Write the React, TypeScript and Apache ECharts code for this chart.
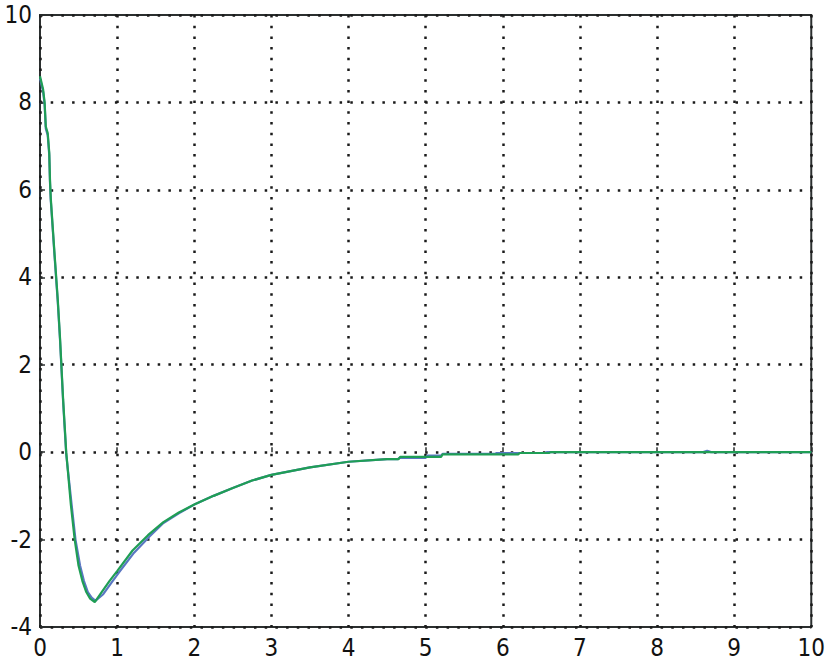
import React, { useEffect, useRef } from "react";
import * as echarts from "echarts";

const xTicks = [0, 1, 2, 3, 4, 5, 6, 7, 8, 9, 10];
const yTicks = [-4, -2, 0, 2, 4, 6, 8, 10];

const greenSeries: [number, number][] = [
  [0, 8.6], [0.04, 8.3], [0.06, 8.0], [0.075, 7.45], [0.1, 7.3], [0.12, 6.85],
  [0.13, 6.2], [0.14, 5.8], [0.19, 4.5], [0.23, 3.5], [0.26, 2.6], [0.3, 1.2], [0.32, 0.6],
  [0.34, 0], [0.4, -1.2], [0.45, -2.0], [0.5, -2.6], [0.55, -2.95], [0.6, -3.2],
  [0.65, -3.35], [0.71, -3.43], [0.8, -3.2], [0.9, -2.95], [1.0, -2.72],
  [1.2, -2.25], [1.4, -1.9], [1.6, -1.6], [1.8, -1.38], [2.0, -1.2], [2.25, -1.0],
  [2.5, -0.82], [2.75, -0.65], [3.0, -0.52], [3.5, -0.35], [4.0, -0.22],
  [4.5, -0.16], [4.65, -0.16], [4.67, -0.11], [5.2, -0.11], [5.22, -0.05],
  [6.2, -0.05], [6.22, -0.02], [6.6, -0.02], [6.62, 0], [10, 0],
];

const blueSeries: [number, number][] = [
  [0, 8.55], [0.04, 8.25], [0.06, 7.95], [0.075, 7.4], [0.1, 7.25], [0.12, 6.8],
  [0.13, 6.15], [0.14, 5.75], [0.19, 4.45], [0.23, 3.45], [0.26, 2.55], [0.3, 1.15], [0.32, 0.55],
  [0.34, -0.05], [0.41, -1.2], [0.46, -2.0], [0.52, -2.6], [0.57, -2.95], [0.62, -3.2],
  [0.67, -3.33], [0.72, -3.4], [0.82, -3.25], [0.92, -3.0], [1.02, -2.76],
  [1.22, -2.3], [1.42, -1.93], [1.6, -1.62], [1.8, -1.4], [2.0, -1.2], [2.25, -1.0],
  [2.5, -0.82], [2.75, -0.65], [3.0, -0.52], [3.5, -0.35], [4.0, -0.22],
  [4.5, -0.16], [4.64, -0.16], [4.66, -0.13], [5.0, -0.13], [5.02, -0.08],
  [5.2, -0.08], [5.22, -0.04], [5.9, -0.04], [5.92, -0.02], [6.55, -0.02],
  [6.57, 0], [8.6, 0], [8.65, 0.03], [8.7, 0], [10, 0],
];

export default function App() {
  const ref = useRef<HTMLDivElement>(null);
  useEffect(() => {
    if (!ref.current) return;
    const chart = echarts.init(ref.current, undefined, { renderer: "svg" });
    const font = "'DejaVu Sans Condensed', 'Liberation Sans Narrow', 'Liberation Sans', sans-serif";
    chart.setOption({
      animation: false,
      backgroundColor: "#ffffff",
      grid: {
        left: 40,
        right: 12,
        top: 15,
        bottom: 39,
        show: true,
        borderColor: "#2b2f2f",
        borderWidth: 2,
        backgroundColor: "transparent",
      },
      xAxis: {
        type: "value",
        min: xTicks[0],
        max: xTicks[xTicks.length - 1],
        interval: 1,
        axisLine: { show: false },
        axisTick: { show: true, inside: true, length: 5, lineStyle: { color: "#2b2f2f", width: 1.5 } },
        axisLabel: { color: "#111", fontSize: 24, fontFamily: font, margin: 9 },
        splitLine: {
          show: true,
          lineStyle: { color: "#1a1a1a", width: 2.5, type: [2.5, 8.2] },
        },
      },
      yAxis: {
        type: "value",
        min: yTicks[0],
        max: yTicks[yTicks.length - 1],
        interval: 2,
        axisLine: { show: false },
        axisTick: { show: true, inside: true, length: 5, lineStyle: { color: "#2b2f2f", width: 1.5 } },
        axisLabel: { color: "#111", fontSize: 24, fontFamily: font, margin: 8 },
        splitLine: {
          show: true,
          lineStyle: { color: "#1a1a1a", width: 2.5, type: [2.5, 8.2] },
        },
      },
      series: [
        {
          type: "line",
          data: blueSeries,
          showSymbol: false,
          lineStyle: { color: "#5a76c2", width: 2.2 },
          z: 3,
        },
        {
          type: "line",
          data: greenSeries,
          showSymbol: false,
          lineStyle: { color: "#1f9e55", width: 2.2 },
          z: 4,
        },
      ],
    });
    return () => chart.dispose();
  }, []);
  return (
    <div
      ref={ref}
      style={{ position: "fixed", left: 0, top: 0, width: 828, height: 666 }}
    />
  );
}
